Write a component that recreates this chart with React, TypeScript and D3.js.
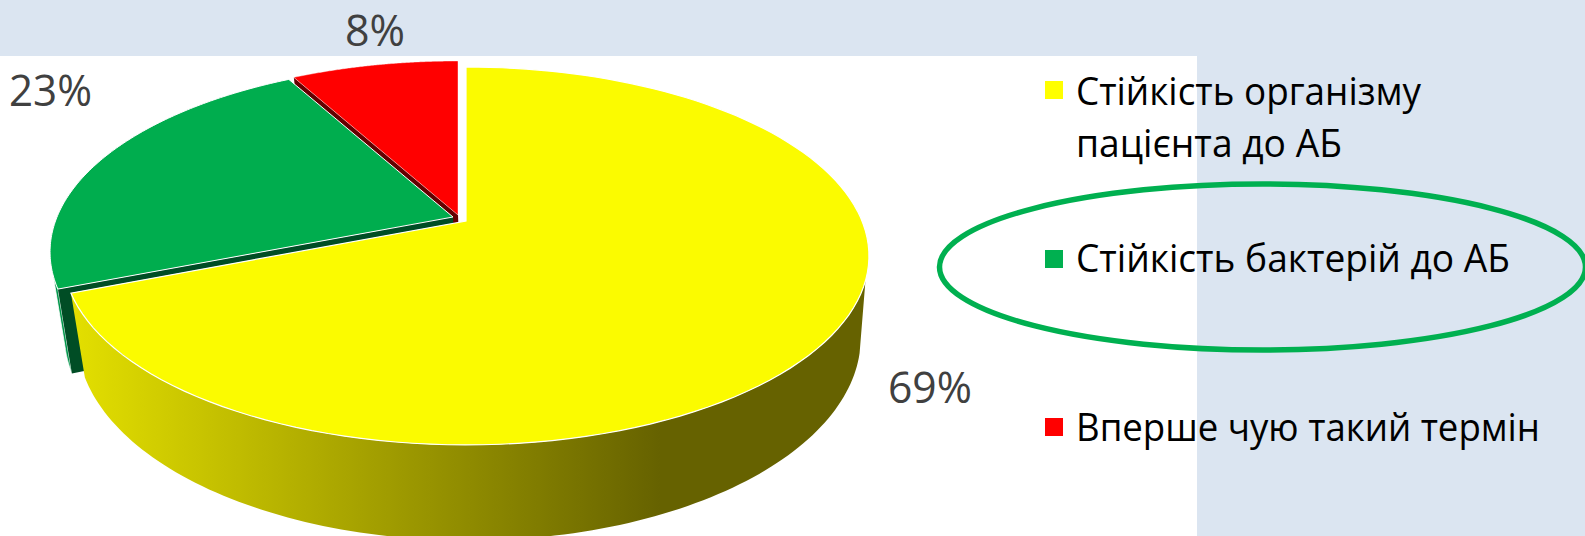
import React from "react";
import * as d3 from "d3";

const categories = ["Стійкість організму пацієнта до АБ", "Стійкість бактерій до АБ", "Вперше чую такий термін"];
const legendLines = [["Стійкість організму", "пацієнта до АБ"], ["Стійкість бактерій до АБ"], ["Вперше чую такий термін"]];
const values = [69, 23, 8];
const valueLabels = ["69%", "23%", "8%"];
const topColors = ["#fbfb00", "#00ad4e", "#ff0000"];
const legendColors = ["#ffff00", "#00b050", "#ff0000"];

const W = 1585, H = 536;
const persp = 0.185;
const top = { cx: 466, y0: 221, R: 396, k: 182.5 };
const bottom = { cx: 469, y0: 300, R: 385, k: 196 };
const offsets = [[0, 0], [-13, -4], [-8, -6]];

type Disc = typeof top;
const project = (d: Disc, a: number, r = 1): [number, number] => {
  const x = Math.sin(a) * r, y = Math.cos(a) * r;
  const s = 1 / (1 + persp * y);
  return [d.cx + d.R * x * s, d.y0 - d.k * y * s];
};
const arcPts = (d: Disc, a0: number, a1: number, off: number[]): [number, number][] =>
  d3.range(0, 121).map((i) => {
    const [x, y] = project(d, a0 + ((a1 - a0) * i) / 120);
    return [x + off[0], y + off[1]] as [number, number];
  });
const line = d3.line<[number, number]>();
const rad = (deg: number) => (deg * Math.PI) / 180;

export default function App() {
  const arcs = d3.pie<number>().sort(null)(values);
  const [yel, grn, red] = arcs;
  const sector = (i: number) => {
    const a = arcs[i], o = offsets[i];
    const c = project(top, 0, 0);
    return (line([[c[0] + o[0], c[1] + o[1]], ...arcPts(top, a.startAngle, a.endAngle, o)]) as string) + "Z";
  };
  const wall = (a0: number, aTop: number, aBottom: number, o: number[]) =>
    (line([...arcPts(top, a0, aTop, o), ...arcPts(bottom, aBottom, a0, o)]) as string) + "Z";
  const wallRight = (aTop: number, aBottom: number, a1: number) =>
    (line([...arcPts(top, aTop, a1, offsets[0]), ...arcPts(bottom, a1, aBottom, offsets[0])]) as string) + "Z";
  const radial = (a: number, o: number[]) => {
    const t = project(top, a), b = project(bottom, a), ct = project(top, 0, 0), cb = project(bottom, 0, 0);
    const pts: [number, number][] = [t, ct, cb, b].map((p) => [p[0] + o[0], p[1] + o[1]]);
    return (line(pts) as string) + "Z";
  };
  const font = "'Open Sans', 'Noto Sans', sans-serif";
  const legendY = [[105, 157], [272], [441]];
  const legendLen = [[345, 266], [434], [464]];
  const markerY = [81, 250, 418];
  const labelPos = [[888, 403, 84], [9, 106, 83], [345, 46, 60]];
  return (
    <svg width={W} height={H} style={{ position: "fixed", left: 0, top: 0, display: "block" }} aria-label={categories.join(", ")}>
      <defs>
        <linearGradient id="wallGrad" gradientUnits="userSpaceOnUse" x1={60} x2={660} y1={0} y2={0}>
          <stop offset="0" stopColor="#e6e200" />
          <stop offset="1" stopColor="#666200" />
        </linearGradient>
      </defs>
      <rect x={0} y={0} width={W} height={H} fill="#dbe5f1" />
      <rect x={0} y={56} width={1197} height={H - 56} fill="#ffffff" />

      <path d={radial(red.startAngle, offsets[2])} fill="#640000" />
      <path d={sector(2)} fill={topColors[2]} stroke="#ffffff" strokeOpacity={0.5} strokeWidth={0.8} />

      <path d={wall(grn.startAngle, rad(252.5), rad(255), offsets[1])} fill="#00964a" stroke="#ffffff" strokeWidth={0.8} />
      <path d={sector(1)} fill={topColors[1]} />
      <path d={radial(grn.startAngle, offsets[1])} fill="#004d25" />
      <path d={sector(1)} fill="none" stroke="#ffffff" strokeWidth={1} />

      <path d={wallRight(rad(108), rad(105), yel.endAngle)} fill="url(#wallGrad)" />
      <path d={sector(0)} fill={topColors[0]} stroke="#ffffff" strokeWidth={1.2} />

      <ellipse cx={1262.5} cy={267} rx={323} ry={83} fill="none" stroke="#00b050" strokeWidth={5.5} />

      {legendLines.map((ls, i) => (
        <g key={i}>
          <rect x={1045} y={markerY[i]} width={18} height={18} fill={legendColors[i]} />
          {ls.map((t, j) => (
            <text key={j} x={1076} y={legendY[i][j]} fontFamily={font} fontSize={38} fill="#000000"
              textLength={legendLen[i][j]} lengthAdjust="spacingAndGlyphs">{t}</text>
          ))}
        </g>
      ))}
      {valueLabels.map((t, i) => (
        <text key={i} x={labelPos[i][0]} y={labelPos[i][1]} fontFamily={font} fontSize={43} fill="#404040"
          textLength={labelPos[i][2]} lengthAdjust="spacingAndGlyphs">{t}</text>
      ))}
    </svg>
  );
}
